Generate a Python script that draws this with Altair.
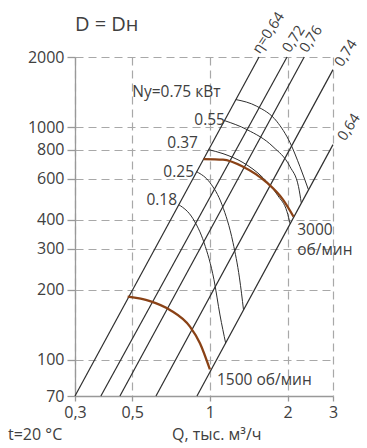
import altair as alt
import pandas as pd

FONT = "Open Sans"
TEXT = "#404040"
INK = "#2e2e2e"
BROWN = "#8a4216"

# axis ticks
x_ticks = [0.3, 0.5, 1, 2, 3]
y_ticks = [70, 100, 200, 300, 400, 600, 800, 1000, 2000]

# network (resistance) lines: start and end points (Q, P)
eta_labels = ["η=0,64", "0,72", "0,76", "0,74", "0,64"]
line_q0 = [0.30, 0.378, 0.448, 0.618, 0.891]
line_p0 = [70, 70, 70, 70, 70]
line_q1 = [1.55, 1.99, 2.32, 3.0, 3.0]
line_p1 = [2000, 2000, 2000, 1765, 841]
eta_q = [1.56, 2.04, 2.38, 3.25, 3.34]
eta_p = [2050, 2070, 2070, 1800, 866]

# motor power curves, kW
n075_q = [1.26, 1.519, 1.815, 2.044, 2.234, 2.41]
n075_p = [1313, 1229, 1059, 858, 676, 538]
n055_q = [1.14, 1.393, 1.756, 2.044, 2.205, 2.26]
n055_p = [1066, 975, 824, 676, 555, 473]
n037_q = [0.988, 1.124, 1.344, 1.606, 1.836, 1.99, 2.047]
n037_p = [800, 769, 704, 606, 507, 433, 384]
n025_q = [0.889, 1.001, 1.114, 1.229, 1.302, 1.35]
n025_p = [643, 577, 464, 319, 225, 164]
n018_q = [0.758, 0.860, 0.949, 1.037, 1.094, 1.151]
n018_p = [464, 404, 319, 221, 156, 118]
power_labels = ["Ny=0.75 кВт", "0.55", "0.37", "0.25", "0.18"]
power_label_q = [0.5, 1.144, 0.899, 0.868, 0.746]
power_label_p = [1350, 1025, 816, 612, 464]
power_label_align = ["left", "right", "right", "right", "right"]

# fan curves at 3000 and 1500 rpm
rpm3000_q = [0.945, 1.124, 1.344, 1.664, 1.920, 2.11]
rpm3000_p = [729, 725, 676, 577, 488, 412]
rpm1500_q = [0.48, 0.586, 0.700, 0.837, 0.915, 1.0]
rpm1500_p = [187, 179, 164, 139, 118, 91]
rpm_labels = ["3000", "об/мин", "1500 об/мин"]
rpm_label_q = [2.18, 2.18, 1.065]
rpm_label_p = [345, 283, 78]

# free text
note_labels = ["D = Dн", "t=20 °C", "Q, тыс. м³/ч"]
note_q = [0.3, 0.165, 0.713]
note_p = [2575, 45.5, 45.5]
note_size = [20, 16, 16]

xscale = alt.Scale(type="log", domain=[0.3, 3], nice=False)
yscale = alt.Scale(type="log", domain=[70, 2000], nice=False)

x_axis = alt.Axis(
    values=x_ticks, labelExpr="replace(format(datum.value, '~g'), '.', ',')",
    title=None, tickSize=5, labelPadding=3, labelFlush=False,
)
y_axis = alt.Axis(values=y_ticks, format="d", title=None, tickSize=8, labelPadding=3)


def curves_frame(groups):
    rows = []
    for name, qs, ps in groups:
        for i, (q, p) in enumerate(zip(qs, ps)):
            rows.append({"curve": name, "i": i, "q": q, "p": p})
    return pd.DataFrame(rows)


lines_df = pd.DataFrame({"q0": line_q0, "p0": line_p0, "q1": line_q1, "p1": line_p1})
power_df = curves_frame([
    ("0.75", n075_q, n075_p), ("0.55", n055_q, n055_p), ("0.37", n037_q, n037_p),
    ("0.25", n025_q, n025_p), ("0.18", n018_q, n018_p),
])
rpm_df = curves_frame([("3000", rpm3000_q, rpm3000_p), ("1500", rpm1500_q, rpm1500_p)])

base_axes = alt.Chart(pd.DataFrame({"q": [0.3], "p": [70]})).mark_point(opacity=0).encode(
    x=alt.X("q:Q", scale=xscale, axis=x_axis),
    y=alt.Y("p:Q", scale=yscale, axis=y_axis),
)

sys_lines = alt.Chart(lines_df).mark_rule(color=INK, strokeWidth=1.2).encode(
    x=alt.X("q0:Q", scale=xscale), y=alt.Y("p0:Q", scale=yscale),
    x2="q1:Q", y2="p1:Q",
)

power_lines = alt.Chart(power_df).mark_line(color=INK, strokeWidth=1.0, interpolate="monotone").encode(
    x=alt.X("q:Q", scale=xscale), y=alt.Y("p:Q", scale=yscale),
    detail="curve:N", order="i:Q",
)

rpm_lines = alt.Chart(rpm_df).mark_line(color=BROWN, strokeWidth=2.3, interpolate="monotone").encode(
    x=alt.X("q:Q", scale=xscale), y=alt.Y("p:Q", scale=yscale),
    detail="curve:N", order="i:Q",
)

eta_text = alt.Chart(pd.DataFrame({"t": eta_labels, "q": eta_q, "p": eta_p})).mark_text(
    font=FONT, fontSize=14.5, color=TEXT, angle=303, align="left", baseline="alphabetic",
).encode(x=alt.X("q:Q", scale=xscale), y=alt.Y("p:Q", scale=yscale), text="t:N")

power_df_lbl = pd.DataFrame({"t": power_labels, "q": power_label_q, "p": power_label_p,
                             "a": power_label_align})
power_text_l = alt.Chart(power_df_lbl[power_df_lbl.a == "left"]).mark_text(
    font=FONT, fontSize=15.5, color=TEXT, align="left", baseline="alphabetic",
).encode(x=alt.X("q:Q", scale=xscale), y=alt.Y("p:Q", scale=yscale), text="t:N")
power_text_r = alt.Chart(power_df_lbl[power_df_lbl.a == "right"]).mark_text(
    font=FONT, fontSize=15.5, color=TEXT, align="right", baseline="alphabetic",
).encode(x=alt.X("q:Q", scale=xscale), y=alt.Y("p:Q", scale=yscale), text="t:N")

rpm_text = alt.Chart(pd.DataFrame({"t": rpm_labels, "q": rpm_label_q, "p": rpm_label_p})).mark_text(
    font=FONT, fontSize=15.5, color=TEXT, align="left", baseline="alphabetic",
).encode(x=alt.X("q:Q", scale=xscale), y=alt.Y("p:Q", scale=yscale), text="t:N")

note_text = alt.Chart(pd.DataFrame({"t": note_labels, "q": note_q, "p": note_p, "s": note_size})).mark_text(
    font=FONT, color=TEXT, align="left", baseline="alphabetic",
).encode(
    x=alt.X("q:Q", scale=xscale), y=alt.Y("p:Q", scale=yscale), text="t:N",
    size=alt.Size("s:Q", scale=None, legend=None),
)

chart = alt.layer(
    base_axes, sys_lines, power_lines, rpm_lines,
    eta_text, power_text_l, power_text_r, rpm_text, note_text,
).properties(
    width=258, height=339,
    autosize=alt.AutoSizeParams(type="none"),
    padding={"left": 75, "top": 57, "right": 34, "bottom": 52},
).configure_view(strokeWidth=0).configure_axis(
    labelFont=FONT, labelFontSize=16, labelColor=TEXT,
    domainColor="#999999", domainWidth=1.3, tickColor="#999999", tickWidth=1.3,
    grid=True, gridColor="#a8a8a8", gridDash=[8, 5], gridWidth=1.2,
)

chart.save("out.html", embed_options={"renderer": "svg", "actions": False})
